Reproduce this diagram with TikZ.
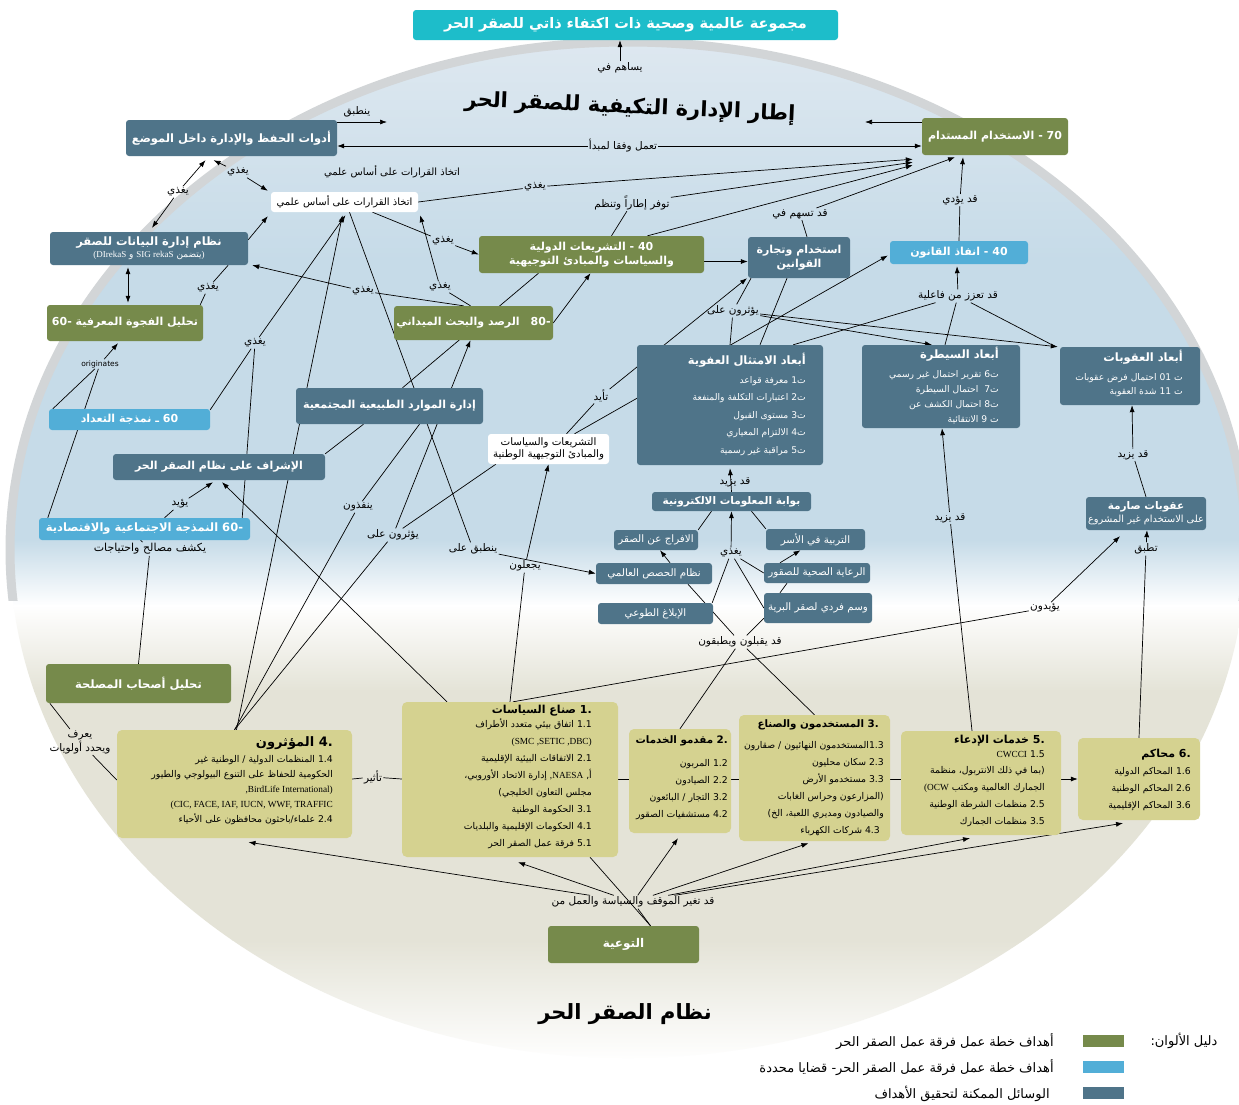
\documentclass[tikz,border=0pt]{standalone}
\usepackage{fontspec}
\usetikzlibrary{arrows.meta,calc}
\setmainfont{DejaVu Sans}
\newfontfamily\arabicfont[Script=Arabic]{DejaVu Sans}
\newfontfamily\latf{Liberation Serif}
\TeXXeTstate=1
\newcommand\ar[1]{{\arabicfont\beginR #1\endR}}
\definecolor{grn}{RGB}{118,138,75}
\definecolor{slt}{RGB}{79,116,137}
\definecolor{lbl}{RGB}{82,174,215}
\definecolor{ttl}{RGB}{29,189,202}
\definecolor{yel}{RGB}{213,210,144}
\definecolor{bgb}{RGB}{198,219,232}
\definecolor{bgt}{RGB}{222,232,240}
\definecolor{bge}{RGB}{228,227,215}
\definecolor{rimc}{RGB}{210,213,215}
\pgfdeclarelayer{bgl}
\pgfdeclarelayer{edges}
\pgfsetlayers{bgl,edges,main}
\begin{document}
\begin{tikzpicture}[x=1pt,y=-1pt,
 sz/.style 2 args={minimum width=#1pt, minimum height=#2pt},
 box/.style={rounded corners=3pt, inner sep=1pt, text=white, align=center, font=\arabicfont\bfseries\fontsize{11}{14}\selectfont},
 gbox/.style={box, fill=grn},
 sbox/.style={box, fill=slt},
 bbox/.style={box, fill=lbl},
 wbox/.style={box, fill=white, text=black, font=\arabicfont\fontsize{10}{12}\selectfont},
 pbox/.style={box, fill=slt, font=\arabicfont\fontsize{10.3}{12}\selectfont},
 ybox/.style={rounded corners=5pt, fill=yel, inner sep=0pt},
 ytext/.style={anchor=north east, align=right, inner sep=0pt, font=\arabicfont\fontsize{9.3}{15}\selectfont},
 dtext/.style={anchor=north east, align=right, inner sep=0pt, text=white, font=\arabicfont\fontsize{9.2}{15}\selectfont},
 lab/.style={inner sep=1.2pt, font=\arabicfont\fontsize{10.5}{12}\selectfont},
 arr/.style={-{Latex[length=7pt,width=5pt]}, line width=0.7pt},
 dbl/.style={{Latex[length=7pt,width=5pt]}-{Latex[length=7pt,width=5pt]}, line width=0.7pt},
 ln/.style={line width=0.7pt}
]
\useasboundingbox (0,0) rectangle (1239,1104);
\begin{pgfonlayer}{bgl}
\fill[white] (0,0) rectangle (1239,1104);
\begin{scope}
\clip (628,550) ellipse [x radius=618pt, y radius=508pt];
\shade[top color=bgt, bottom color=bgb] (0,40) rectangle (1239,261);
\fill[bgb] (0,260) rectangle (1239,541);
\shade[top color=bgb, bottom color=white] (0,540) rectangle (1239,606);
\shade[top color=white, bottom color=bge] (0,605) rectangle (1239,691);
\fill[bge] (0,690) rectangle (1239,941);
\shade[top color=bge, bottom color=white] (0,940) rectangle (1239,1062);
\end{scope}
\begin{scope}
\clip (0,0) rectangle (1239,600);
\draw[rimc, line width=9pt] (628,550) ellipse [x radius=618pt, y radius=508pt];
\end{scope}
\end{pgfonlayer}

% ---------- top ----------
\node[box, fill=ttl, sz={425}{30}, font=\arabicfont\bfseries\fontsize{14.5}{16}\selectfont] (title) at (625.5,25) {\ar{مجموعة عالمية وصحية ذات اكتفاء ذاتي للصقر الحر}};
\node[lab] (lContrib) at (620,68) {\ar{يساهم في}};
\node[font=\arabicfont\bfseries\fontsize{21}{24}\selectfont, rotate=-2.5] (bigT) at (630,108) {\ar{إطار الإدارة التكيفية للصقر الحر}};
\node[lab] (lApplies) at (357,112) {\ar{ينطبق}};
\node[lab] (lPrinciple) at (623,146) {\ar{تعمل وفقا لمبدأ}};
\node[lab, font=\arabicfont\fontsize{10}{12}\selectfont] (lSciTxt) at (392,172) {\ar{اتخاذ القرارات على أساس علمي}};

\node[sbox, sz={211}{36}, font=\arabicfont\bfseries\fontsize{11.5}{14}\selectfont] (adsat) at (231.5,138) {\ar{أدوات الحفظ والإدارة داخل الموضع}};
\node[gbox, sz={146}{37}] (sust) at (995,136.5) {\ar{الاستخدام المستدام} - 70};
\node[wbox, sz={147}{20}] (sci) at (344.5,202) {\ar{اتخاذ القرارات على أساس علمي}};
\node[sbox, sz={198}{33}, inner sep=0pt, font=\arabicfont\bfseries\fontsize{11.5}{13}\selectfont] (data) at (149,248.5) {\ar{نظام إدارة البيانات للصقر}\\[-1pt]{\mdseries\fontsize{9}{10}\selectfont{\latf (DIrekaS} \ar{و} {\latf SIG rekaS} \ar{يتضمن}{\latf )}}};
\node[gbox, sz={156}{36}] (gap) at (125,323) {-60 \ar{تحليل الفجوة المعرفية}};
\node[gbox, sz={225}{37}, font=\arabicfont\bfseries\fontsize{11}{14}\selectfont] (intl) at (591.5,254.5) {\ar{التشريعات الدولية} - 40\\\ar{والسياسات والمبادئ التوجيهية}};
\node[sbox, sz={102}{41}, font=\arabicfont\bfseries\fontsize{11}{14}\selectfont] (trade) at (799,257.5) {\ar{استخدام وتجارة}\\\ar{القوانين}};
\node[bbox, sz={138}{23}] (enf) at (959,252.5) {\ar{انفاذ القانون} - 40};
\node[gbox, sz={159}{34}] (mon) at (473.5,323) {\ar{الرصد والبحث الميداني}\quad -80};

% dimension boxes
\node[sbox, sz={186}{120}] (comp) at (730,405) {};
\node[dtext, font=\arabicfont\fontsize{9.2}{17.5}\selectfont] (compT) at (806,353) {{\bfseries\fontsize{11.5}{13}\selectfont\ar{أبعاد الامتثال العفوية}}\\[1pt]
\ar{معرفة قواعد} 1\ar{ت}\\
\ar{اعتبارات التكلفة والمنفعة} 2\ar{ت}\\
\ar{مستوى القبول} 3\ar{ت}\\
\ar{الالتزام المعياري} 4\ar{ت}\\
\ar{مراقبة غير رسمية} 5\ar{ت}};
\node[sbox, sz={158}{83}] (ctrl) at (941,386.5) {};
\node[dtext, font=\arabicfont\fontsize{9.2}{15}\selectfont] (ctrlT) at (999,347) {{\bfseries\fontsize{11.5}{13}\selectfont\ar{أبعاد السيطرة}}\\[4pt]
\ar{تقرير احتمال غير رسمي} 6\ar{ت}\\
\ar{احتمال السيطرة}\ \ 7\ar{ت}\\
\ar{احتمال الكشف عن} 8\ar{ت}\\
\ar{الانتقائية} 9 \ar{ت}};
\node[sbox, sz={140}{58}] (sanc) at (1130,376) {};
\node[dtext, font=\arabicfont\fontsize{9.2}{14}\selectfont] (sancT) at (1183,350) {{\bfseries\fontsize{11.5}{13}\selectfont\ar{أبعاد العقوبات}}\\[5pt]
\ar{احتمال فرض عقوبات} 01 \ar{ت}\hspace*{8pt}\\
\ar{شدة العقوبة} 11 \ar{ت}};

\node[sbox, sz={187}{36}] (cbnrm) at (389.5,406) {\ar{إدارة الموارد الطبيعية المجتمعية}};
\node[wbox, sz={121}{30}, font=\arabicfont\fontsize{10.3}{11.5}\selectfont] (natl) at (548.5,449) {\ar{التشريعات والسياسات}\\\ar{والمبادئ التوجيهية الوطنية}};
\node[bbox, sz={161}{21}] (census) at (129.5,419.5) {\ar{نمذجة التعداد} \ar{ـ} 60};
\node[sbox, sz={212}{26}] (superv) at (219,467) {\ar{الإشراف على نظام الصقر الحر}};
\node[bbox, sz={211}{22}, font=\arabicfont\bfseries\fontsize{11.5}{14}\selectfont] (socio) at (144.5,529) {\ar{النمذجة الاجتماعية والاقتصادية} -60};

% portal cluster
\node[sbox, sz={159}{19}, font=\arabicfont\bfseries\fontsize{10.5}{12}\selectfont] (portal) at (731.5,501.5) {\ar{بوابة المعلومات الالكترونية}};
\node[pbox, sz={84}{20}] (release) at (656,540) {\ar{الافراج عن الصقر}};
\node[pbox, sz={99}{21}] (breed) at (815.5,539.5) {\ar{التربية في الأسر}};
\node[pbox, sz={116}{21}] (quota) at (654,573.5) {\ar{نظام الحصص العالمي}};
\node[pbox, sz={106}{20}] (health) at (817,573) {\ar{الرعاية الصحية للصقور}};
\node[pbox, sz={115}{21}] (report) at (655.5,613.5) {\ar{الإبلاغ الطوعي}};
\node[pbox, sz={108}{30}] (tag) at (818,608) {\ar{وسم فردي لصقر البرية}};
\node[sbox, sz={120}{33}, font=\arabicfont\bfseries\fontsize{10.5}{13}\selectfont] (strict) at (1146,513.5) {\ar{عقوبات صارمة}\\{\mdseries\fontsize{9.8}{11}\selectfont\ar{على الاستخدام غير المشروع}}};
\node[gbox, sz={185}{39}, font=\arabicfont\bfseries\fontsize{11.5}{14}\selectfont] (stake) at (138.5,683.5) {\ar{تحليل أصحاب المصلحة}};

% yellow boxes
\node[ybox, sz={235}{108}] (infl) at (234.5,784) {};
\node[ytext] (inflT) at (333,736) {{\bfseries\fontsize{13}{14}\selectfont\ar{المؤثرون} .4}\\[1pt]
\ar{المنظمات الدولية / الوطنية غير} 1.4\hspace*{3pt}\\
\ar{الحكومية للحفاظ على التنوع البيولوجي والطيور}\hspace*{14pt}\\
{\latf ,BirdLife International)}\\
{\latf (CIC, FACE, IAF, IUCN, WWF, TRAFFIC}\\
\ar{علماء/باحثون محافظون على الأحياء} 2.4};
\node[ybox, sz={216}{155}] (pol) at (510,779.5) {};
\node[ytext, font=\arabicfont\fontsize{9.3}{17}\selectfont] (polT) at (592,705) {{\bfseries\fontsize{11}{13}\selectfont\ar{صناع السياسات} .1}\\[-3pt]
\ar{اتفاق بيئي متعدد الأطراف} 1.1\\
{\latf (SMC ,SETIC ,DBC)}\hspace*{18pt}\\
\ar{الاتفاقات البيئية الإقليمية} 2.1\\
\ar{إدارة الاتحاد الأوروبي،} {\latf ,NAESA} ,\ar{أ}\hspace*{18pt}\\
\ar{مجلس التعاون الخليجي)}\hspace*{18pt}\\
\ar{الحكومة الوطنية} 3.1\\
\ar{الحكومات الإقليمية والبلديات} 4.1\\
\ar{فرقة عمل الصقر الحر} 5.1};
\node[ybox, sz={102}{104}] (serv) at (680,781) {};
\node[ytext, font=\arabicfont\fontsize{9.3}{17}\selectfont] (servT) at (728,735) {{\bfseries\fontsize{10.3}{13}\selectfont\ar{مقدمو الخدمات} .2}\\[6pt]
\ar{المربون} 1.2\\
\ar{الصيادون} 2.2\\
\ar{التجار / البائعون} 3.2\\
\ar{مستشفيات الصقور} 4.2};
\node[ybox, sz={151}{126}] (users) at (814.5,778) {};
\node[ytext, font=\arabicfont\fontsize{9.3}{17}\selectfont] (usersT) at (884,719) {{\bfseries\fontsize{10.3}{13}\selectfont\ar{المستخدمون والصناع} .3}\hspace*{5pt}\\[4pt]
\ar{المستخدمون النهائيون / صقارون}1.3\\
\ar{سكان محليون} 2.3\\
\ar{مستخدمو الأرض} 3.3\\
\ar{(المزارعون وحراس الغابات}\hspace*{8pt}\\
\ar{والصيادون ومديري اللعبة، الخ)}\hspace*{4pt}\\
\ar{شركات الكهرباء} 4.3\hspace*{4pt}};
\node[ybox, sz={160}{104}] (pros) at (981,783) {};
\node[ytext, font=\arabicfont\fontsize{9.3}{16.7}\selectfont] (prosT) at (1045,735) {{\bfseries\fontsize{11}{13}\selectfont\ar{خدمات الإدعاء} .5}\\[-3pt]
{\latf CWCCI} 1.5\hspace*{4pt}\\
\ar{(بما في ذلك الانتربول، منظمة}\\
{\latf (OCW} \ar{الجمارك العالمية ومكتب}\\
\ar{منظمات الشرطة الوطنية} 2.5\\
\ar{منظمات الجمارك} 3.5};
\node[ybox, sz={122}{82}] (courts) at (1139,779) {};
\node[ytext, font=\arabicfont\fontsize{9.3}{17}\selectfont] (courtsT) at (1191,749) {{\bfseries\fontsize{11}{13}\selectfont\ar{محاكم} .6}\\
\ar{المحاكم الدولية} 1.6\\
\ar{المحاكم الوطنية} 2.6\\
\ar{المحاكم الإقليمية} 3.6};

\node[gbox, sz={151}{37}, font=\arabicfont\bfseries\fontsize{12}{14}\selectfont] (aware) at (623.5,944.5) {\ar{التوعية}};
\node[font=\arabicfont\bfseries\fontsize{21}{26}\selectfont] (botT) at (625,1014) {\ar{نظام الصقر الحر}};

% labels
\node[lab] (lF1) at (238,172) {\ar{يغذي}};
\node[lab] (lF2) at (178,192) {\ar{يغذي}};
\node[lab] (lF3) at (535,187) {\ar{يغذي}};
\node[lab] (lFrame) at (632,203) {\ar{توفر إطاراً وتنظم}};
\node[lab] (lMay) at (800,214) {\ar{قد تسهم في}};
\node[lab] (lLead) at (960,200) {\ar{قد يؤدي}};
\node[lab] (lF4) at (443,241) {\ar{يغذي}};
\node[lab] (lF5) at (208,288) {\ar{يغذي}};
\node[lab] (lF6) at (363,291) {\ar{يغذي}};
\node[lab] (lF7) at (440,287) {\ar{يغذي}};
\node[lab] (lF8) at (255,343) {\ar{يغذي}};
\node[lab] (lEnh) at (958,296) {\ar{قد تعزز من فاعلية}};
\node[lab] (lInf1) at (733,311) {\ar{يؤثرون على}};
\node[inner sep=1pt, font=\fontsize{7.5}{9}\selectfont] (lOrig) at (100,364) {originates};
\node[lab] (lSupp) at (601,396) {\ar{تأيد}};
\node[lab] (lInc1) at (735,482) {\ar{قد يزيد}};
\node[lab] (lSup2) at (180,504) {\ar{يؤيد}};
\node[lab] (lImpl) at (358,507) {\ar{ينفذون}};
\node[lab] (lInf2) at (393,535) {\ar{يؤثرون على}};
\node[lab] (lApplyOn) at (473,549) {\ar{ينطبق على}};
\node[lab] (lMake) at (525,566) {\ar{يجعلون}};
\node[lab, font=\arabicfont\fontsize{11}{12}\selectfont] (lReveal) at (150,549) {\ar{يكشف مصالح واحتياجات}};
\node[lab] (lFeed9) at (731,553) {\ar{يغذي}};
\node[lab] (lAccept) at (740,642) {\ar{قد يقبلون ويطبقون}};
\node[lab] (lInc2) at (1133,455) {\ar{قد يزيد}};
\node[lab] (lInc3) at (950,518) {\ar{قد يزيد}};
\node[lab] (lApply2) at (1146,549) {\ar{تطبق}};
\node[lab] (lSupport) at (1045,608) {\ar{يؤيدون}};
\node[lab, align=center, font=\arabicfont\fontsize{10.5}{12}\selectfont] (lDefine) at (80,742) {\ar{يعرف}\\\ar{ويحدد أولويات}};
\node[lab] (lInfluence) at (373,777) {\ar{تأثير}};
\node[lab] (lChange) at (633,902) {\ar{قد تغير الموقف والسياسة والعمل من}};

% legend
\node[lab, font=\arabicfont\fontsize{13}{14}\selectfont] (legT) at (1184,1041) {\ar{دليل الألوان:}};
\node[fill=grn, sz={41}{12}, inner sep=0pt] (sw1) at (1103.5,1041) {};
\node[fill=lbl, sz={41}{12}, inner sep=0pt] (sw2) at (1103.5,1067) {};
\node[fill=slt, sz={41}{12}, inner sep=0pt] (sw3) at (1103.5,1093) {};
\node[lab, anchor=east, font=\arabicfont\fontsize{13}{14}\selectfont] (leg1) at (1055,1042) {\ar{أهداف خطة عمل فرقة عمل الصقر الحر}};
\node[lab, anchor=east, font=\arabicfont\fontsize{13}{14}\selectfont] (leg2) at (1055,1068) {\ar{أهداف خطة عمل فرقة عمل الصقر الحر- قضايا محددة}};
\node[lab, anchor=east, font=\arabicfont\fontsize{13}{14}\selectfont] (leg3) at (1051,1094) {\ar{الوسائل الممكنة لتحقيق الأهداف}};

% ---------- edges ----------
\begin{pgfonlayer}{edges}
\draw[arr] (lContrib.north) -- (lContrib.north |- title.south);
\coordinate (appE) at (387,122);
\coordinate (sustW) at (865,122);
\draw[arr] (adsat.east |- appE) -- (appE);
\draw[arr] (sust.west |- sustW) -- (sustW);
\draw[arr] (lPrinciple.west) -- (adsat.east |- lPrinciple.west);
\draw[arr] (lPrinciple.east) -- (sust.west |- lPrinciple.east);
\draw[arr] (lF1) -- ($(adsat.south)+(-18,4)$);
\draw[arr] (lF1) -- ($(sci.north west)+(-3,-1)$);
\draw[arr] (lF2) -- ($(adsat.south)+(-26,4)$);
\draw[arr] (lF2) -- ($(data.north)+(3,-4)$);
\draw[dbl] ($(data.south)+(-21,2)$) -- ($(gap.north)+(3,-2)$);
\draw[arr] ($(data.north east)+(0,8)$) -- ($(sci.south west)+(-3,4)$);
\draw[ln] ($(gap.north east)+(-3,0)$) -- (lF5);
\draw[ln] (lF5) -- ($(data.south east)+(-20,0)$);
\draw[ln] ($(mon.north)+(-10,0)$) -- (lF6);
\draw[arr] (lF6) -- ($(data.south east)+(4,0)$);
\draw[ln] ($(mon.north)+(-3,0)$) -- (lF7);
\draw[arr] (lF7) -- ($(sci.south east)+(2,3)$);
\draw[ln] ($(sci.south)+(28,0)$) -- (lF4);
\draw[arr] (lF4) -- (intl.west);
\draw[ln] (sci.east) -- (lF3);
\draw[arr] (lF3) -- ($(sust.south west)+(-9,4)$);
\draw[ln] ($(intl.north)+(20,0)$) -- (lFrame);
\draw[arr] (lFrame) -- ($(sust.south west)+(-9,7)$);
\draw[arr] ($(intl.north)+(56,0)$) -- ($(sust.south west)+(-9,10)$);
\draw[ln] ($(trade.north)+(8,0)$) -- (lMay);
\draw[arr] (lMay) -- ($(sust.south)+(-40,2)$);
\draw[ln] (enf.north) -- (lLead);
\draw[arr] (lLead) -- ($(sust.south)+(-32,2)$);
\draw[arr] ($(intl.east)+(0,7)$) -- ($(trade.west)+(0,4)$);
\draw[arr] (mon.east) -- ($(intl.south)+(-1,0)$);
\draw[ln] ($(cbnrm.north)+(13,0)$) -- ($(intl.south)+(-53,0)$);
% middle left
\draw[arr] ($(infl.north)+(2,0)$) -- ($(sci.south)+(-2,3)$);
\draw[ln] ($(census.north east)+(0,1)$) -- (lF8);
\draw[ln] ($(socio.north east)+(-8,0)$) -- (lF8);
\draw[arr] (lF8) -- ($(sci.south)+(1,3)$);
\draw[ln] ($(census.north west)+(4,0)$) -- (lOrig);
\draw[ln] ($(socio.north west)+(9,0)$) -- (lOrig);
\draw[arr] (lOrig) -- ($(gap.south)+(-7,2)$);
\draw[ln] ($(socio.north)+(20,0)$) -- (lSup2);
\draw[arr] (lSup2) -- ($(superv.south)+(-6,2)$);
\draw[arr] ($(pol.north)+(-63,0)$) -- ($(superv.south)+(3,2)$);
\draw[ln] ($(cbnrm.south)+(-26,0)$) -- (superv.north east);
\draw[ln] ($(sci.south)+(5,0)$) -- (lApplyOn);
\draw[arr] (lApplyOn) -- (quota.west);
\draw[ln] (pol.north) -- (lMake);
\draw[arr] (lMake) -- (natl.south);
\draw[ln] ($(natl.north)+(18,0)$) -- (lSupp);
\draw[arr] (lSupp) -- ($(trade.south)+(-52,0)$);
\draw[arr] ($(natl.north)+(26,0)$) -- ($(enf.west)+(-2,3)$);
\draw[ln] (infl.north) -- (lImpl);
\draw[ln] (lImpl) -- ($(cbnrm.south)+(30,0)$);
\draw[ln] (infl.north) -- (lInf2);
\draw[arr] (lInf2) -- ($(mon.south)+(-3,0)$);
\draw[ln] (lInf2) -- ($(natl.south west)+(8,0)$);
% compliance area
\draw[ln] ($(comp.north)+(30,0)$) -- ($(trade.south)+(-12,0)$);
\draw[ln] ($(trade.south)+(-48,0)$) -- (lInf1);
\draw[ln] (lInf1) -- (comp.north);
\draw[arr] (lInf1) -- ($(ctrl.north)+(-9,0)$);
\draw[arr] (lInf1) -- ($(sanc.north west)+(-2,0)$);
\draw[ln] ($(comp.north east)+(-30,0)$) -- (lEnh);
\draw[ln] ($(ctrl.north)+(4,0)$) -- (lEnh);
\draw[ln] ($(sanc.north west)+(-4,0)$) -- (lEnh);
\draw[arr] (lEnh) -- ($(enf.south)+(-2,2)$);
\draw[arr] (portal.north) -- ($(comp.south)+(0,3)$);
% portal cluster
\draw[arr] (lFeed9) -- (portal.south);
\draw[ln] (release.north east) -- ($(portal.south)+(-20,0)$);
\draw[ln] (breed.north west) -- ($(portal.south)+(20,0)$);
\draw[ln] (lFeed9) -- ($(report.north east)+(-1,0)$);
\draw[ln] (lFeed9) -- (tag.west);
\draw[ln] (lFeed9) -- (health.west);
\draw[arr] ($(health.north)+(-37,0)$) -- ($(breed.south)+(-15,0)$);
\draw[arr] ($(quota.north)+(16,0)$) -- ($(release.south)+(4,0)$);
\draw[ln] ($(tag.north)+(-38,0)$) -- ($(health.south)+(-30,0)$);
\draw[ln] ($(quota.south)+(34,0)$) -- (lAccept);
\draw[ln] ($(tag.south west)+(0,-5)$) -- (lAccept);
\draw[ln] (serv.north) -- (lAccept);
\draw[ln] (users.north) -- (lAccept);
% right
\draw[ln] ($(pol.north)+(3,0)$) -- (lSupport);
\draw[arr] (lSupport) -- ($(strict.south)+(-26,6)$);
\draw[ln] (courts.north) -- (lApply2);
\draw[arr] (lApply2) -- ($(strict.south)+(1,0)$);
\draw[ln] (strict.north) -- (lInc2);
\draw[arr] (lInc2) -- ($(sanc.south)+(2,0)$);
\draw[ln] ($(pros.north)+(-9,0)$) -- (lInc3);
\draw[arr] (lInc3) -- ($(ctrl.south)+(1,0)$);
% bottom left
\draw[ln] ($(stake.south west)+(4,0)$) -- (lDefine);
\draw[ln] (lDefine) -- ($(infl.west)+(0,-4)$);
\draw[ln] ($(socio.south)+(-4,0)$) -- (lReveal);
\draw[ln] (lReveal) -- (stake.north);
% chain
\coordinate (hy) at (0,779);
\draw[ln] (infl.east |- hy) -- (lInfluence);
\draw[ln] (lInfluence) -- (pol.west |- hy);
\draw[ln] (pol.east |- hy) -- (serv.west |- hy);
\draw[ln] (serv.east |- hy) -- (users.west |- hy);
\draw[ln] (users.east |- hy) -- (pros.west |- hy);
\draw[arr] (pros.east |- hy) -- (courts.west |- hy);
% awareness
\draw[ln] ($(aware.north)+(27,0)$) -- (lChange);
\draw[arr] (lChange) -- ($(infl.south)+(14,4)$);
\draw[arr] (lChange) -- ($(pol.south)+(8,5)$);
\draw[arr] (lChange) -- ($(serv.south)+(-2,5)$);
\draw[arr] (lChange) -- ($(users.south)+(-6,2)$);
\draw[arr] (lChange) -- ($(pros.south)+(-11,3)$);
\draw[arr] (lChange) -- ($(courts.south)+(-16,3)$);
\draw[ln] ($(pol.south)+(80,0)$) -- ($(aware.north)+(27,0)$);
\end{pgfonlayer}
\end{tikzpicture}
\end{document}
